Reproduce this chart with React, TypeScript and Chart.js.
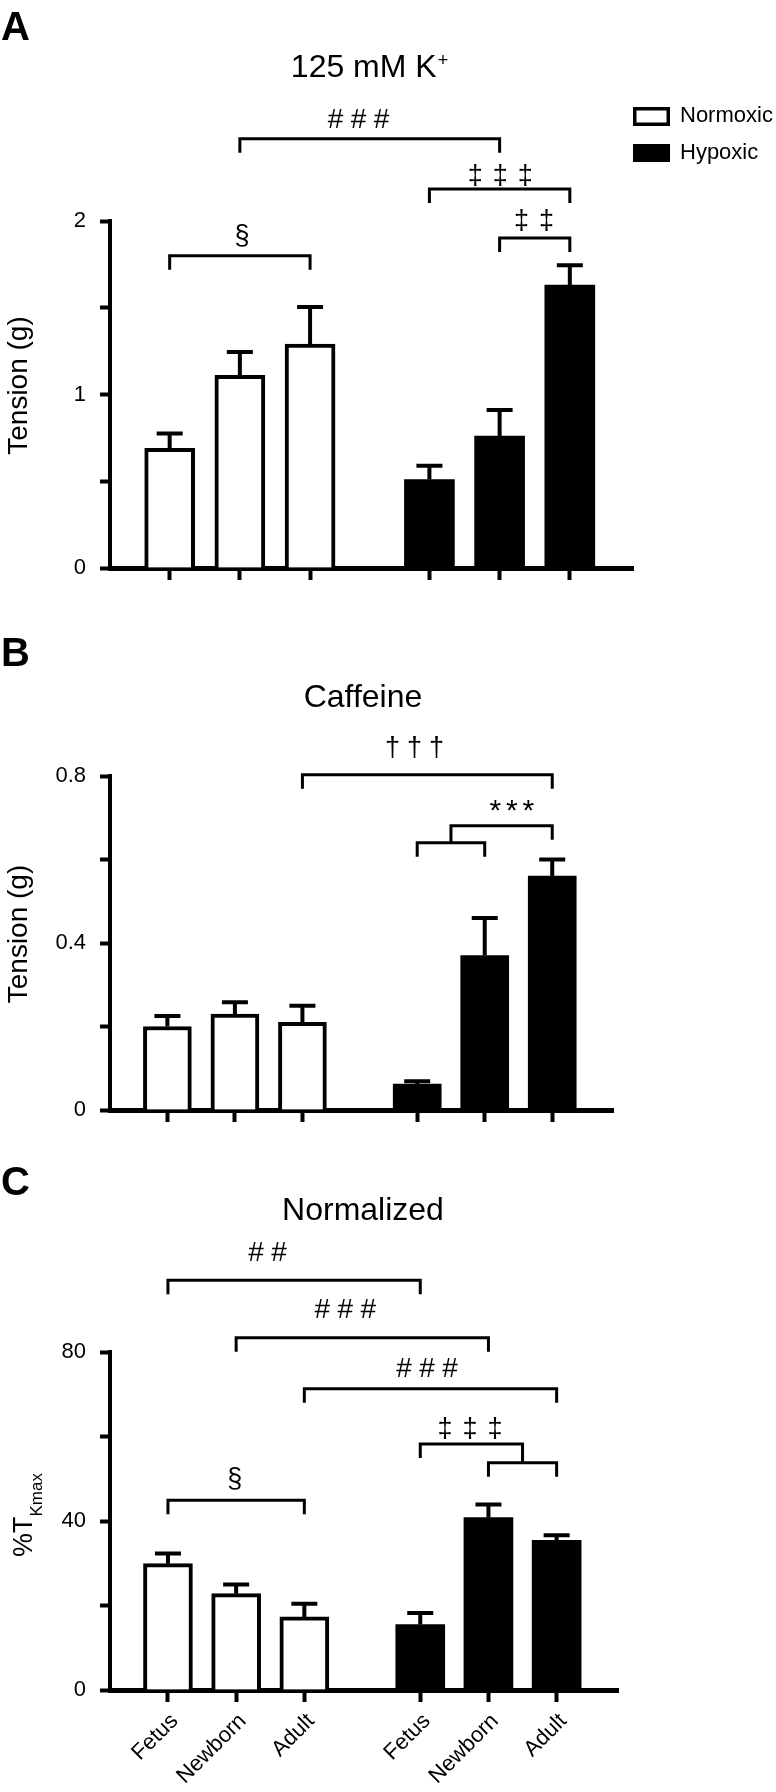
import React, { useEffect, useRef } from 'react';
import { Chart, registerables } from 'chart.js';

Chart.register(...registerables);

const FONT = "'Liberation Sans', Arial, Helvetica, sans-serif";

// ---------------- data ----------------
const GROUPS = ['Fetus', 'Newborn', 'Adult'];
const SERIES = ['Normoxic', 'Hypoxic'];
const X_NORMOXIC = [0, 1, 2];
const X_HYPOXIC = [3.7, 4.7, 5.7];
const X_ALL = [...X_NORMOXIC, ...X_HYPOXIC];
const X_LABELS_C = [...GROUPS, ...GROUPS];

// Panel A: 125 mM K+
const A_NORMOXIC = [0.69, 1.11, 1.29];
const A_NORMOXIC_SEM = [0.085, 0.135, 0.215];
const A_HYPOXIC = [0.51, 0.76, 1.63];
const A_HYPOXIC_SEM = [0.08, 0.15, 0.115];
const A_TICKS = [0, 0.5, 1, 1.5, 2];
const A_TICK_LABELS = ['0', '', '1', '', '2'];

// Panel B: Caffeine
const B_NORMOXIC = [0.2, 0.23, 0.21];
const B_NORMOXIC_SEM = [0.025, 0.028, 0.04];
const B_HYPOXIC = [0.062, 0.37, 0.56];
const B_HYPOXIC_SEM = [0.007, 0.09, 0.04];
const B_TICKS = [0, 0.2, 0.4, 0.6, 0.8];
const B_TICK_LABELS = ['0', '', '0.4', '', '0.8'];

// Panel C: Normalized
const C_NORMOXIC = [29.9, 22.8, 17.3];
const C_NORMOXIC_SEM = [2.4, 2.2, 3.1];
const C_HYPOXIC = [15.5, 40.8, 35.4];
const C_HYPOXIC_SEM = [2.7, 3.1, 1.2];
const C_TICKS = [0, 20, 40, 60, 80];
const C_TICK_LABELS = ['0', '', '40', '', '80'];

// significance brackets: bar indices 0..5 (or [i,j] = midpoint of a lower bracket), levels in data units
const A_BRACKETS = [
  { from: 0, to: 2, level: 1.8, text: '§', textX: 1.03, textLevel: 1.916 },
  { from: 1, to: 4, level: 2.474, text: '###', textX: 2.69, textLevel: 2.591 },
  { from: 3, to: 5, level: 2.184, text: '‡‡‡', textX: 4.71, textLevel: 2.268 },
  { from: 4, to: 5, level: 1.902, text: '‡‡', textX: 5.19, textLevel: 2.003 },
];
const B_BRACKETS = [
  { from: 2, to: 5, level: 0.803, text: '†††', textX: 3.66, textLevel: 0.869 },
  { from: 3, to: 4, level: 0.64 },
  { from: [3, 4], join: 0.64, to: 5, level: 0.681, text: '***', textX: 5.1, textLevel: 0.729 },
];
const C_BRACKETS = [
  { from: 0, to: 3, level: 97.0, text: '##', textX: 1.46, textLevel: 103.9 },
  { from: 1, to: 4, level: 83.4, text: '###', textX: 2.6, textLevel: 90.2 },
  { from: 2, to: 5, level: 71.3, text: '###', textX: 3.8, textLevel: 76.4 },
  { from: 4, to: 5, level: 53.8 },
  { from: 3, to: [4, 5], join: 53.8, level: 58.2, text: '‡‡‡', textX: 4.43, textLevel: 62.0 },
  { from: 0, to: 2, level: 44.9, text: '§', textX: 0.98, textLevel: 50.1 },
];

// ---------------- panel layout ----------------
const PANELS = [
  {
    id: 'A', letter: 'A', letterBaseline: 40,
    title: '125 mM K', titleSup: '+', titleX: 369, titleBaseline: 77,
    yTitle: 'Tension (g)', yTitleSub: '', yTitleShift: -9,
    norm: A_NORMOXIC, normSem: A_NORMOXIC_SEM, hyp: A_HYPOXIC, hypSem: A_HYPOXIC_SEM,
    yMin: 0, yMax: 2, yTicks: A_TICKS, yTickLabels: A_TICK_LABELS,
    brackets: A_BRACKETS, xLabels: null, legend: true,
    canvasTop: 0, canvasHeight: 600, areaTop: 221, areaRightPad: 143, xAxisHeight: 32, barThickness: 50,
  },
  {
    id: 'B', letter: 'B', letterBaseline: 66,
    title: 'Caffeine', titleSup: '', titleX: 363, titleBaseline: 107,
    yTitle: 'Tension (g)', yTitleSub: '', yTitleShift: -9,
    norm: B_NORMOXIC, normSem: B_NORMOXIC_SEM, hyp: B_HYPOXIC, hypSem: B_HYPOXIC_SEM,
    yMin: 0, yMax: 0.8, yTicks: B_TICKS, yTickLabels: B_TICK_LABELS,
    brackets: B_BRACKETS, xLabels: null, legend: false,
    canvasTop: 600, canvasHeight: 540, areaTop: 176, areaRightPad: 163, xAxisHeight: 30, barThickness: 48,
  },
  {
    id: 'C', letter: 'C', letterBaseline: 55,
    title: 'Normalized', titleSup: '', titleX: 363, titleBaseline: 80,
    yTitle: '%T', yTitleSub: 'Kmax', yTitleShift: -6,
    norm: C_NORMOXIC, normSem: C_NORMOXIC_SEM, hyp: C_HYPOXIC, hypSem: C_HYPOXIC_SEM,
    yMin: 0, yMax: 80, yTicks: C_TICKS, yTickLabels: C_TICK_LABELS,
    brackets: C_BRACKETS, xLabels: X_LABELS_C, legend: false,
    canvasTop: 1140, canvasHeight: 652, areaTop: 212, areaRightPad: 158, xAxisHeight: 102, barThickness: 49,
  },
];

const SYMBOLS: Record<string, { size: number; step: number }> = {
  '#': { size: 28, step: 23 },
  '‡': { size: 27, step: 25 },
  '†': { size: 27, step: 22 },
  '*': { size: 30, step: 16.5 },
  '§': { size: 27, step: 0 },
};

function drawSymbols(ctx: CanvasRenderingContext2D, text: string, cx: number, cy: number) {
  const chars = Array.from(text);
  const st = SYMBOLS[chars[0]] || { size: 26, step: 20 };
  ctx.font = `${st.size}px ${FONT}`;
  ctx.textAlign = 'center';
  ctx.textBaseline = 'alphabetic';
  const m = ctx.measureText(chars[0]);
  const baseY = cy + (m.actualBoundingBoxAscent - m.actualBoundingBoxDescent) / 2;
  chars.forEach((ch, k) => {
    ctx.fillText(ch, cx + (k - (chars.length - 1) / 2) * st.step, baseY);
  });
}

function annotationPlugin(p: any) {
  return {
    id: 'annot' + p.id,
    afterDraw(chart: any) {
      const ctx: CanvasRenderingContext2D = chart.ctx;
      const xs = chart.scales.x;
      const ys = chart.scales.y;
      const area = chart.chartArea;
      ctx.save();
      ctx.fillStyle = '#000';
      ctx.strokeStyle = '#000';

      // error bars (upper only)
      chart.data.datasets.forEach((ds: any) => {
        ds.data.forEach((pt: any, i: number) => {
          const x = xs.getPixelForValue(pt.x);
          const y0 = ys.getPixelForValue(pt.y);
          const y1 = ys.getPixelForValue(pt.y + ds.sem[i]);
          ctx.lineWidth = 4;
          ctx.lineCap = 'butt';
          ctx.beginPath();
          ctx.moveTo(x, y0);
          ctx.lineTo(x, y1);
          ctx.moveTo(x - 13, y1);
          ctx.lineTo(x + 13, y1);
          ctx.stroke();
        });
      });

      // significance brackets
      const px = (e: any) =>
        Array.isArray(e)
          ? (xs.getPixelForValue(X_ALL[e[0]]) + xs.getPixelForValue(X_ALL[e[1]])) / 2
          : xs.getPixelForValue(X_ALL[e]);
      const LEG = 14;
      p.brackets.forEach((b: any) => {
        const x1 = px(b.from);
        const x2 = px(b.to);
        const y = ys.getPixelForValue(b.level);
        const y1b = Array.isArray(b.from) ? ys.getPixelForValue(b.join) : y + LEG;
        const y2b = Array.isArray(b.to) ? ys.getPixelForValue(b.join) : y + LEG;
        ctx.lineWidth = 3;
        ctx.lineJoin = 'miter';
        ctx.beginPath();
        ctx.moveTo(x1, y1b);
        ctx.lineTo(x1, y);
        ctx.lineTo(x2, y);
        ctx.lineTo(x2, y2b);
        ctx.stroke();
        if (b.text) {
          drawSymbols(ctx, b.text, xs.getPixelForValue(b.textX), ys.getPixelForValue(b.textLevel));
        }
      });

      // rotated category labels under the x axis (45 degrees)
      if (p.xLabels) {
        ctx.font = `22px ${FONT}`;
        ctx.textAlign = 'right';
        ctx.textBaseline = 'alphabetic';
        X_ALL.forEach((v, i) => {
          const x = xs.getPixelForValue(v);
          ctx.save();
          ctx.translate(x + 11, area.bottom + 32);
          ctx.rotate(-Math.PI / 4);
          ctx.fillText(p.xLabels[i], 0, 0);
          ctx.restore();
        });
      }

      // panel letter
      ctx.font = `bold 40px ${FONT}`;
      ctx.textAlign = 'left';
      ctx.textBaseline = 'alphabetic';
      ctx.fillText(p.letter, 1, p.letterBaseline);

      // title
      ctx.font = `32px ${FONT}`;
      const tw = ctx.measureText(p.title).width;
      let sw = 0;
      if (p.titleSup) {
        ctx.font = `18px ${FONT}`;
        sw = ctx.measureText(p.titleSup).width;
      }
      const tx = p.titleX - (tw + sw) / 2;
      ctx.font = `32px ${FONT}`;
      ctx.fillText(p.title, tx, p.titleBaseline);
      if (p.titleSup) {
        ctx.font = `18px ${FONT}`;
        ctx.fillText(p.titleSup, tx + tw + 1, p.titleBaseline - 11);
      }

      // y axis title
      const cy = (area.top + area.bottom) / 2 + p.yTitleShift;
      ctx.save();
      ctx.translate(0, cy);
      ctx.rotate(-Math.PI / 2);
      if (p.yTitleSub) {
        ctx.font = `27px ${FONT}`;
        const w1 = ctx.measureText(p.yTitle).width;
        ctx.font = `17px ${FONT}`;
        const w2 = ctx.measureText(p.yTitleSub).width;
        const start = -(w1 + w2) / 2;
        ctx.textAlign = 'left';
        ctx.font = `27px ${FONT}`;
        ctx.fillText(p.yTitle, start, 32);
        ctx.font = `17px ${FONT}`;
        ctx.fillText(p.yTitleSub, start + w1, 42);
      } else {
        ctx.font = `28px ${FONT}`;
        ctx.textAlign = 'center';
        ctx.fillText(p.yTitle, 0, 27);
      }
      ctx.restore();

      // legend
      if (p.legend) {
        ctx.lineWidth = 3.5;
        ctx.strokeRect(634.75, 108.75, 33.5, 15.5);
        ctx.fillRect(633, 144, 37, 18);
        ctx.font = `22px ${FONT}`;
        ctx.textAlign = 'left';
        ctx.textBaseline = 'middle';
        ctx.fillText(SERIES[0], 680, 116);
        ctx.fillText(SERIES[1], 680, 153);
      }
      ctx.restore();
    },
  };
}

function makeConfig(p: any): any {
  return {
    type: 'bar',
    data: {
      datasets: [
        {
          label: SERIES[0],
          data: p.norm.map((y: number, i: number) => ({ x: X_NORMOXIC[i], y })),
          sem: p.normSem,
          backgroundColor: '#ffffff',
          borderColor: '#000000',
          borderWidth: 4,
          barThickness: p.barThickness,
          grouped: false,
        },
        {
          label: SERIES[1],
          data: p.hyp.map((y: number, i: number) => ({ x: X_HYPOXIC[i], y })),
          sem: p.hypSem,
          backgroundColor: '#000000',
          borderColor: '#000000',
          borderWidth: 0,
          barThickness: p.barThickness,
          grouped: false,
        },
      ],
    },
    options: {
      animation: false,
      responsive: false,
      maintainAspectRatio: false,
      devicePixelRatio: 1,
      events: [],
      layout: { padding: { top: p.areaTop, right: p.areaRightPad, bottom: 0, left: 0 } },
      plugins: { legend: { display: false }, tooltip: { enabled: false }, title: { display: false } },
      scales: {
        x: {
          type: 'linear',
          min: -0.85,
          max: 6.6,
          bounds: 'data',
          offset: false,
          afterBuildTicks: (s: any) => {
            s.ticks = X_ALL.map((v) => ({ value: v }));
          },
          afterFit: (s: any) => {
            s.height = p.xAxisHeight;
          },
          grid: {
            display: true,
            offset: false,
            drawOnChartArea: false,
            drawTicks: true,
            tickLength: 12,
            tickWidth: 4,
            tickColor: '#000',
            color: '#000',
          },
          border: { display: true, width: 5, color: '#000' },
          ticks: {
            autoSkip: false,
            minRotation: 0,
            maxRotation: 0,
            color: '#000',
            font: { family: FONT, size: 22 },
            callback: () => '',
          },
        },
        y: {
          type: 'linear',
          min: p.yMin,
          max: p.yMax,
          afterBuildTicks: (s: any) => {
            s.ticks = p.yTicks.map((v: number) => ({ value: v }));
          },
          afterFit: (s: any) => {
            s.width = 110;
          },
          grid: {
            display: true,
            drawOnChartArea: false,
            drawTicks: true,
            tickLength: 10,
            tickWidth: 4,
            tickColor: '#000',
            color: '#000',
          },
          border: { display: true, width: 4, color: '#000' },
          ticks: {
            padding: 14,
            color: '#000',
            font: { family: FONT, size: 22 },
            callback: (_v: any, i: number) => p.yTickLabels[i],
          },
        },
      },
    },
    plugins: [annotationPlugin(p)],
  };
}

export default function App() {
  const r0 = useRef<HTMLCanvasElement>(null);
  const r1 = useRef<HTMLCanvasElement>(null);
  const r2 = useRef<HTMLCanvasElement>(null);
  const refs = [r0, r1, r2];

  useEffect(() => {
    const charts = PANELS.map((p, i) => new Chart(refs[i].current as HTMLCanvasElement, makeConfig(p)));
    return () => charts.forEach((c) => c.destroy());
  }, []);

  return (
    <div style={{ position: 'absolute', left: 0, top: 0, width: 776, height: 1792, background: '#fff' }}>
      {PANELS.map((p, i) => (
        <canvas
          key={p.id}
          ref={refs[i]}
          width={776}
          height={p.canvasHeight}
          style={{ position: 'absolute', left: 0, top: p.canvasTop, width: 776, height: p.canvasHeight }}
        />
      ))}
    </div>
  );
}
